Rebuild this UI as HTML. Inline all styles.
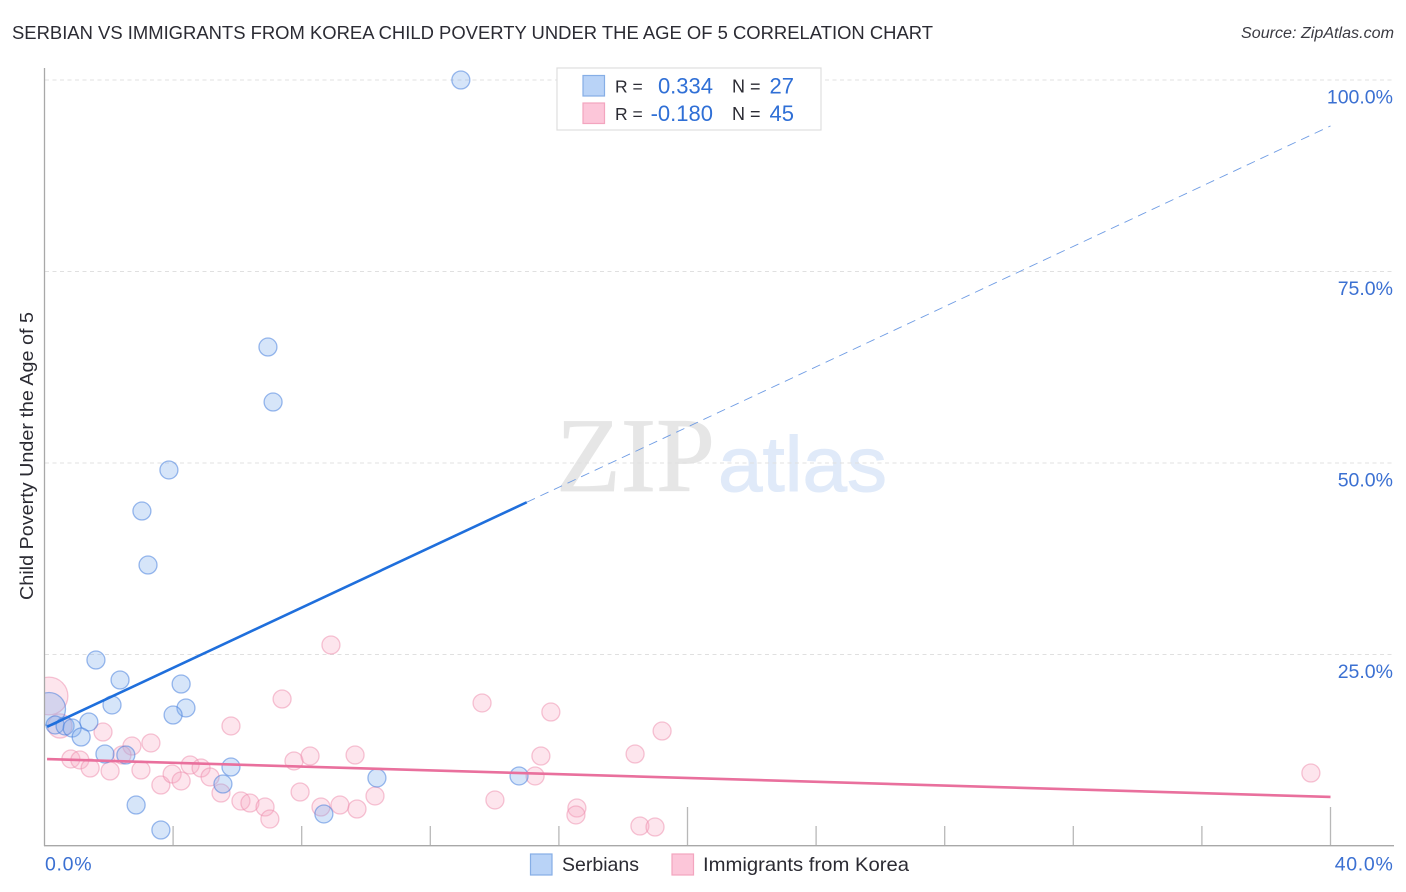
<!DOCTYPE html>
<html lang="en">
<head>
<meta charset="utf-8">
<title>Serbian vs Immigrants from Korea Child Poverty Correlation Chart</title>
<style>
html,body{margin:0;padding:0;background:#fff;width:1406px;height:892px;overflow:hidden}
svg{display:block}
text{font-family:"Liberation Sans",sans-serif}
</style>
</head>
<body>
<svg id="chart" xmlns="http://www.w3.org/2000/svg" width="1406" height="892" viewBox="0 0 1406 892">
  <rect x="0" y="0" width="1406" height="892" fill="#ffffff"/>
  <text x="12" y="39" font-size="18.5" fill="#2b2b33" textLength="921" lengthAdjust="spacingAndGlyphs">SERBIAN VS IMMIGRANTS FROM KOREA CHILD POVERTY UNDER THE AGE OF 5 CORRELATION CHART</text>
  <text x="1241" y="38" font-size="15.500" font-style="italic" fill="#3a3a42" textLength="153" lengthAdjust="spacingAndGlyphs">Source: ZipAtlas.com</text>
  <g id="watermark">
    <text x="556" y="491" font-size="106" fill="#e6e6e6" stroke="#e6e6e6" stroke-width="0.8" style="font-family:'Liberation Serif',serif" textLength="159" lengthAdjust="spacingAndGlyphs">ZIP</text>
    <text x="718" y="491" font-size="78" fill="#e0eaf9" stroke="#e0eaf9" stroke-width="1" textLength="169" lengthAdjust="spacingAndGlyphs">atlas</text>
  </g>
  <g id="grid"></g>
  <g id="x-ticks"></g>
  <g id="points"></g>
  <rect x="0" y="60" width="44.5" height="786" fill="#ffffff"/>
  <g id="trends"></g>
  <line x1="44.5" y1="68" x2="44.5" y2="846" stroke="#a8a8a8" stroke-width="1.3"/>
  <line x1="44" y1="845.7" x2="1394" y2="845.7" stroke="#a8a8a8" stroke-width="1.3"/>
  <g id="y-labels"></g>
  <g id="x-labels"></g>
  <text transform="translate(33 456) rotate(-90)" font-size="18.5" fill="#2b2b33" text-anchor="middle" textLength="288" lengthAdjust="spacingAndGlyphs">Child Poverty Under the Age of 5</text>

  <g>
    <rect x="557" y="68" width="264" height="62" fill="#ffffff" stroke="#dedede" stroke-width="1.2"/>
    <rect x="583" y="75.5" width="21.5" height="20.5" fill="#b9d3f7" stroke="#86aee6" stroke-width="1.2"/>
    <rect x="583" y="103" width="21.5" height="20.5" fill="#fcc6d9" stroke="#f3a5bf" stroke-width="1.2"/>
    <text x="615" y="92.500" font-size="17.500" fill="#2b2b33">R =</text>
    <text x="713" y="93.500" font-size="22" fill="#2f6fd6" text-anchor="end">0.334</text>
    <text x="732" y="92.500" font-size="18" fill="#2b2b33">N =</text>
    <text x="794" y="93.500" font-size="22" fill="#2f6fd6" text-anchor="end">27</text>
    <text x="615" y="120" font-size="17.500" fill="#2b2b33">R =</text>
    <text x="713" y="121" font-size="22" fill="#2f6fd6" text-anchor="end">-0.180</text>
    <text x="732" y="120" font-size="18" fill="#2b2b33">N =</text>
    <text x="794" y="121" font-size="22" fill="#2f6fd6" text-anchor="end">45</text>
  </g>

  <g>
    <g>
      <rect x="530.500" y="854" width="21.500" height="21" fill="#b9d3f7" stroke="#86aee6" stroke-width="1.2"/>
      <text x="562" y="871" font-size="19.500" fill="#2b2b33" textLength="77" lengthAdjust="spacingAndGlyphs">Serbians</text>
    </g>
    <g>
      <rect x="672" y="854" width="21.500" height="21" fill="#fcc6d9" stroke="#f3a5bf" stroke-width="1.2"/>
      <text x="703" y="871" font-size="19.500" fill="#2b2b33" textLength="206" lengthAdjust="spacingAndGlyphs">Immigrants from Korea</text>
    </g>
  </g>
</svg>
<script>
// ---- chart data ----
const yTickValues = [25, 50, 75, 100];
const yTickLabels = ["25.0%", "50.0%", "75.0%", "100.0%"];
const xEdgeValues = [0, 40];
const xEdgeLabels = ["0.0%", "40.0%"];
const xMinorTickValues = [4, 8, 12, 16, 24, 28, 32, 36];
const xMajorTickValues = [20, 40];

const serbianX = [12.95, 6.95, 7.11, 3.87, 3.03, 3.22, 1.60, 2.35, 4.25, 2.10, 4.40, 4.00, 0.14, 1.38, 0.33, 0.64, 0.86, 1.14, 1.88, 2.53, 5.80, 10.34, 14.76, 5.55, 2.85, 8.69, 3.62];
const serbianY = [100.0, 65.14, 57.96, 49.09, 43.73, 36.68, 24.28, 21.67, 21.15, 18.41, 18.02, 17.10, 17.89, 16.19, 15.80, 15.67, 15.40, 14.23, 12.01, 11.88, 10.31, 8.88, 9.14, 8.09, 5.35, 4.18, 2.09];
const serbianWeight = [1, 1, 1, 1, 1, 1, 1, 1, 1, 1, 1, 1, 3.36, 1, 1, 1, 1, 1, 1, 1, 1, 1, 1, 1, 1, 1, 1];

const koreaX = [7.39, 8.91, 5.80, 1.82, 0.48, 0.82, 1.10, 1.42, 2.04, 2.72, 3.31, 2.41, 3.00, 3.62, 3.97, 4.25, 4.53, 4.87, 5.15, 5.49, 6.11, 6.39, 6.86, 7.01, 7.76, 8.26, 7.95, 8.60, 9.19, 9.66, 9.72, 10.28, 13.61, 15.75, 15.44, 15.26, 14.01, 18.37, 19.21, 16.56, 16.53, 18.52, 18.99, 39.39, 0.14];
const koreaY = [19.19, 26.24, 15.67, 14.88, 15.67, 11.36, 11.23, 10.18, 9.79, 13.05, 13.45, 11.88, 9.92, 7.96, 9.40, 8.49, 10.57, 10.18, 9.01, 6.92, 5.87, 5.61, 5.09, 3.52, 11.10, 11.75, 7.05, 5.09, 5.35, 11.88, 4.83, 6.53, 18.67, 17.49, 11.75, 9.14, 6.01, 12.01, 15.01, 4.96, 4.05, 2.61, 2.48, 9.53, 19.58];
const koreaWeight = [1, 1, 1, 1, 1.8, 1, 1, 1, 1, 1, 1, 1, 1, 1, 1, 1, 1, 1, 1, 1, 1, 1, 1, 1, 1, 1, 1, 1, 1, 1, 1, 1, 1, 1, 1, 1, 1, 1, 1, 1, 1, 1, 1, 1, 4.4];

const serbianTrendEnds = [15.4, 94.0];
const koreaTrendEnds = [11.36, 6.4];
const trendStartX = 0.08;
const trendEndX = 40;
const serbianSolidEndX = 15;

// ---- axis functions ----
const xScale = function (v) { return 44.5 + v * 32.15; };
const yScale = function (v) { return 846 - v * 7.66; };
const radiusScale = function (w) { return 9 * Math.sqrt(w); };
const trendValue = function (ends, x) { return ends[0] + (ends[1] - ends[0]) * x / trendEndX; };

const NS = 'http://www.w3.org/2000/svg';
function make(tag, parentId, attrs) {
  const el = document.createElementNS(NS, tag);
  Object.keys(attrs).forEach(function (k) { el.setAttribute(k, attrs[k]); });
  document.getElementById(parentId).appendChild(el);
  return el;
}

// gridlines and y labels
yTickValues.forEach(function (v, i) {
  const line = make('line', 'grid', { x1: 45, x2: 1393, y1: yScale(v), y2: yScale(v), stroke: '#e0e0e0', 'stroke-width': 1, 'stroke-dasharray': '4 3.5' });
  
  
  const label = make('text', 'y-labels', { x: 1393, y: yScale(v) + 23.5, 'font-size': 19.5, fill: '#3b70d2', 'text-anchor': 'end' });
  label.textContent = yTickLabels[i];
  
  
});

// x ticks
xMinorTickValues.forEach(function (v) {
  const t = make('line', 'x-ticks', { x1: xScale(v), x2: xScale(v), y1: 826, y2: 846, stroke: '#b8b8b8', 'stroke-width': 1.3 });
  
  
});
xMajorTickValues.forEach(function (v) {
  const t = make('line', 'x-ticks', { x1: xScale(v), x2: xScale(v), y1: 807, y2: 846, stroke: '#b8b8b8', 'stroke-width': 1.3 });
  
  
});

// x edge labels
xEdgeValues.forEach(function (v, i) {
  const anchorX = i === 0 ? xScale(v) + 0.5 : 1393.5;
  const label = make('text', 'x-labels', { x: anchorX, y: 870.5, 'font-size': 19.5, 'letter-spacing': 0.7, fill: '#3b70d2', 'text-anchor': i === 0 ? 'start' : 'end' });
  label.textContent = xEdgeLabels[i];
  
  
});

// points
koreaX.forEach(function (x, i) {
  const c = make('circle', 'points', { cx: xScale(x), cy: yScale(koreaY[i]), r: radiusScale(koreaWeight[i]), fill: 'rgba(248,170,195,0.3)', stroke: 'rgba(238,140,172,0.5)', 'stroke-width': 1.3 });
  
  
});
serbianX.forEach(function (x, i) {
  const c = make('circle', 'points', { cx: xScale(x), cy: yScale(serbianY[i]), r: radiusScale(serbianWeight[i]), fill: 'rgba(130,175,238,0.33)', stroke: 'rgba(60,120,220,0.5)', 'stroke-width': 1.3 });
  
  
});

// trend lines
const serbianSolid = make('line', 'trends', { x1: xScale(trendStartX), y1: yScale(trendValue(serbianTrendEnds, trendStartX)), x2: xScale(serbianSolidEndX), y2: yScale(trendValue(serbianTrendEnds, serbianSolidEndX)), stroke: '#1f6fdc', 'stroke-width': 2.6 });


const serbianDashed = make('line', 'trends', { x1: xScale(serbianSolidEndX), y1: yScale(trendValue(serbianTrendEnds, serbianSolidEndX)), x2: xScale(trendEndX), y2: yScale(trendValue(serbianTrendEnds, trendEndX)), stroke: '#6f9ce4', 'stroke-width': 0.9, 'stroke-dasharray': '9 6' });


const koreaLine = make('line', 'trends', { x1: xScale(trendStartX), y1: yScale(trendValue(koreaTrendEnds, trendStartX)), x2: xScale(trendEndX), y2: yScale(trendValue(koreaTrendEnds, trendEndX)), stroke: '#e9709d', 'stroke-width': 2.6 });


</script>
</body>
</html>
